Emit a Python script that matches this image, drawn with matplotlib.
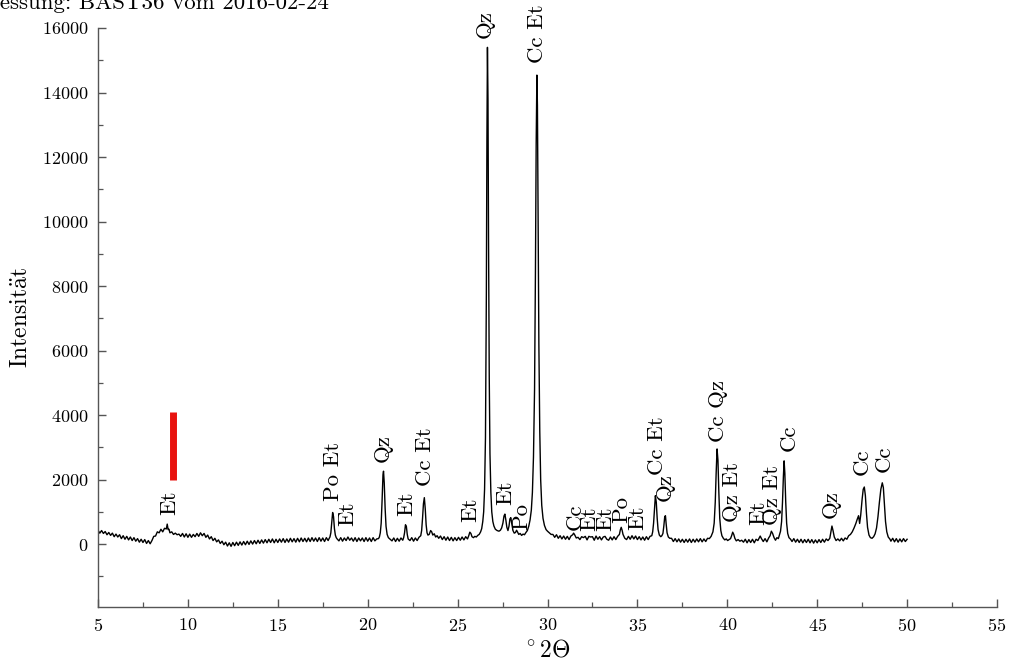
import matplotlib
matplotlib.use("Agg")
import matplotlib.pyplot as plt
from matplotlib.ticker import MultipleLocator

plt.rcParams.update({
    "font.family": "cmr10",
    "mathtext.fontset": "cm",
    "axes.formatter.use_mathtext": True,
    "axes.unicode_minus": False,
})

# Diffractogram: 2-theta (degrees) and measured counts
two_theta = [
    5.0, 5.1, 5.2, 5.3, 5.4, 5.5, 5.6, 5.7, 5.8, 5.9, 6.0, 6.1, 6.2, 6.3, 6.4, 6.5, 6.6, 6.7, 6.8, 6.9,
    7.0, 7.1, 7.2, 7.3, 7.4, 7.5, 7.6, 7.7, 7.8, 7.9,
    8.0, 8.1, 8.2, 8.3, 8.4, 8.5, 8.6, 8.7, 8.8, 8.85, 8.9, 8.95, 9.0, 9.1, 9.2, 9.3, 9.4, 9.5,
    9.6, 9.7, 9.8, 9.9, 10.0, 10.1, 10.2, 10.3, 10.4, 10.5, 10.6, 10.7, 10.8, 10.9, 11.0, 11.1, 11.2, 11.3,
    11.4, 11.5, 11.6, 11.7, 11.8, 11.9,
    12.0, 12.1, 12.2, 12.3, 12.4, 12.5, 12.6, 12.7, 12.8, 12.9, 13.0, 13.1, 13.2, 13.3, 13.4, 13.5, 13.6,
    13.7, 13.8, 13.9, 14.0, 14.1, 14.2, 14.3, 14.4, 14.5, 14.6, 14.7, 14.8, 14.9, 15.0, 15.1, 15.2, 15.3,
    15.4, 15.5, 15.6, 15.7, 15.8, 15.9,
    16.0, 16.1, 16.2, 16.3, 16.4, 16.5, 16.6, 16.7, 16.8, 16.9, 17.0, 17.1, 17.2, 17.3, 17.4, 17.5, 17.6,
    17.7, 17.8,
    17.85, 17.9, 17.95, 18.0, 18.05, 18.1, 18.15, 18.2, 18.25, 18.3,
    18.4, 18.5, 18.6, 18.7, 18.8, 18.9, 19.0, 19.1, 19.2, 19.3, 19.4, 19.5, 19.6, 19.7, 19.8, 19.9, 20.0,
    20.1, 20.2, 20.3, 20.4, 20.5,
    20.6, 20.65, 20.7, 20.75, 20.8, 20.85, 20.88, 20.92, 20.97, 21.02, 21.08, 21.15, 21.25,
    21.35, 21.45, 21.55, 21.65, 21.75, 21.85, 21.95, 22.0, 22.05, 22.1, 22.15, 22.2, 22.25, 22.35, 22.45,
    22.55, 22.65, 22.75, 22.85,
    22.95, 23.0, 23.05, 23.1, 23.15, 23.2, 23.25, 23.3, 23.35, 23.42, 23.5, 23.56, 23.62, 23.7, 23.78,
    23.86, 23.95,
    24.05, 24.15, 24.25, 24.35, 24.45, 24.55, 24.65, 24.75, 24.85, 24.95, 25.05, 25.15, 25.25, 25.35,
    25.45, 25.55,
    25.62, 25.68, 25.74, 25.8, 25.88, 25.96, 26.04, 26.12, 26.2, 26.28,
    26.34, 26.4, 26.45, 26.5, 26.55, 26.6, 26.63, 26.66, 26.69, 26.72, 26.76, 26.8, 26.85, 26.9, 26.96,
    27.02, 27.1, 27.2, 27.3, 27.38,
    27.45, 27.52, 27.58, 27.63, 27.68, 27.74, 27.8, 27.86, 27.91, 27.96, 28.01, 28.08, 28.15,
    28.22, 28.28, 28.33, 28.4, 28.48, 28.56, 28.64, 28.72, 28.8, 28.88, 28.96,
    29.03, 29.1, 29.16, 29.22, 29.28, 29.33, 29.37, 29.41, 29.44, 29.48, 29.52, 29.57, 29.62, 29.68,
    29.75, 29.83, 29.92, 30.0, 30.1, 30.2,
    30.3, 30.4, 30.5, 30.6, 30.7, 30.8, 30.9, 31.0, 31.1, 31.2, 31.3, 31.4, 31.45, 31.5, 31.6, 31.7,
    31.8, 31.9, 32.0, 32.1, 32.2, 32.3, 32.4, 32.5, 32.6, 32.7, 32.8, 32.9, 33.0, 33.1, 33.2, 33.3,
    33.4, 33.5, 33.6, 33.7, 33.8, 33.9,
    34.0, 34.05, 34.1, 34.15, 34.2, 34.3, 34.4, 34.5, 34.6, 34.7, 34.8, 34.9, 35.0, 35.1, 35.2, 35.3,
    35.4, 35.5, 35.6, 35.7, 35.8,
    35.85, 35.9, 35.95, 36.0, 36.05, 36.1, 36.15, 36.22, 36.3, 36.36, 36.42, 36.47, 36.52, 36.56, 36.6,
    36.65, 36.72, 36.8,
    36.9, 37.0, 37.1, 37.2, 37.3, 37.4, 37.5, 37.6, 37.7, 37.8, 37.9, 38.0, 38.1, 38.2, 38.3, 38.4,
    38.5, 38.6, 38.7, 38.8, 38.9, 39.0, 39.1,
    39.2, 39.27, 39.33, 39.38, 39.43, 39.48, 39.53, 39.58, 39.64, 39.7, 39.78, 39.86, 39.94, 40.02,
    40.1, 40.18,
    40.24, 40.3, 40.36, 40.42, 40.5, 40.6, 40.7, 40.8, 40.9, 41.0, 41.1, 41.2, 41.3, 41.4, 41.5, 41.6,
    41.7,
    41.78, 41.83, 41.9, 42.0, 42.1, 42.2, 42.3, 42.38, 42.45, 42.52, 42.6, 42.68, 42.76, 42.84, 42.9,
    42.96, 43.02, 43.07, 43.12, 43.16, 43.2, 43.25, 43.3, 43.36, 43.43, 43.52,
    43.6, 43.7, 43.8, 43.9, 44.0, 44.1, 44.2, 44.3, 44.4, 44.5, 44.6, 44.7, 44.8, 44.9, 45.0, 45.1,
    45.2, 45.3, 45.4, 45.5, 45.6, 45.7,
    45.76, 45.82, 45.88, 45.95, 46.05, 46.15, 46.25, 46.35, 46.45, 46.55, 46.65, 46.75, 46.85,
    46.95, 47.05, 47.15, 47.22, 47.3, 47.36, 47.42, 47.5, 47.56, 47.62, 47.68, 47.74, 47.8, 47.88,
    47.96, 48.05,
    48.14, 48.22, 48.3, 48.38, 48.46, 48.54, 48.62, 48.68, 48.74, 48.8, 48.87, 48.95, 49.05,
    49.1, 49.2, 49.3, 49.4, 49.5, 49.6, 49.7, 49.8, 49.9, 50.0,
]

intensity = [
    430, 340, 420, 330, 390, 290, 360, 270, 340, 230, 310, 220, 290, 170, 260, 150, 240, 130, 220, 110,
    200, 90, 170, 60, 150, 50, 140, 20, 110, 10,
    110, 240, 250, 380, 350, 460, 380, 490, 470, 620, 450, 460, 350, 380, 300, 340, 290, 310,
    240, 330, 220, 320, 210, 310, 210, 300, 230, 330, 240, 350, 260, 330, 210, 280, 160, 230,
    110, 180, 70, 130, 20, 90,
    -20, 60, -60, 40, -70, 50, -50, 60, -40, 70, -30, 80, -20, 90, -10, 100, 0,
    110, 10, 120, 20, 130, 30, 140, 40, 150, 50, 160, 40, 150, 50, 160, 60, 170,
    50, 160, 60, 180, 70, 170,
    60, 180, 70, 190, 80, 180, 70, 190, 80, 200, 90, 190, 80, 200, 90, 190, 80,
    200, 110,
    170, 220, 350, 650, 980, 850, 480, 280, 200, 160,
    100, 200, 90, 190, 110, 220, 120, 190, 90, 200, 80, 190, 100, 190, 80, 200, 90,
    190, 80, 200, 100, 160,
    170, 220, 350, 650, 1350, 2150, 2260, 1900, 1100, 550, 300, 200, 150,
    100, 190, 80, 180, 90, 190, 120, 200, 350, 600, 550, 300, 160, 110, 200,
    90, 190, 110, 210,
    260, 420, 800, 1250, 1440, 1100, 600, 350, 280, 300, 420, 380, 280, 320, 220,
    260, 180,
    250, 140, 230, 120, 220, 110, 210, 100, 200, 110, 210, 120, 220, 130,
    230, 160,
    260, 370, 330, 230, 200, 240, 220, 270, 300, 380,
    480, 700, 1000, 1700, 3300, 7800, 12500, 15400, 13800, 9500, 5200, 2800, 1600, 1000, 700,
    560, 460, 420, 400, 430,
    500, 650, 870, 930, 760, 520, 420, 560, 780, 820, 640, 420, 340,
    360, 430, 380, 300, 330, 270, 310, 290, 360, 420, 560,
    750, 1050, 1600, 2700, 4800, 8500, 12400, 14540, 13600, 10000, 6200, 3500, 2000, 1200,
    800, 580, 450, 400, 350, 300,
    300, 210, 290, 180, 260, 160, 250, 150, 240, 140, 250, 290, 340, 300, 190, 210,
    140, 230, 200, 240, 130, 240, 220, 230, 120, 250, 150, 230, 130, 220, 240, 150,
    120, 220, 130, 230, 140, 240,
    300, 440, 520, 430, 300, 180, 140, 240, 150, 260, 160, 250, 140, 230, 130, 220,
    120, 230, 140, 240, 260,
    380, 650, 1100, 1500, 1300, 800, 450, 280, 230, 260, 330, 560, 850, 880, 620,
    350, 220, 180,
    180, 80, 170, 70, 160, 60, 150, 50, 150, 60, 160, 50, 150, 60, 160, 70,
    170, 70, 160, 80, 180, 170, 240,
    380, 650, 1300, 2200, 2950, 2600, 1600, 800, 420, 260, 180, 130, 160, 110,
    140, 170,
    260, 370, 300, 180, 100, 140, 90, 120, 60, 150, 40, 140, 50, 150, 40, 150,
    110,
    200, 250, 170, 80, 170, 70, 190, 260, 400, 330, 200, 120, 200, 170, 280,
    400, 700, 1300, 2100, 2580, 2200, 1300, 650, 330, 200, 150,
    80, 170, 60, 150, 50, 150, 40, 140, 50, 150, 40, 140, 30, 130, 40, 140,
    50, 150, 60, 160, 110, 180,
    380, 560, 420, 220, 110, 160, 100, 180, 100, 190, 150, 260, 300,
    380, 500, 640, 760, 880, 640, 900, 1400, 1700, 1770, 1500, 950, 520, 280,
    200, 180,
    230, 320, 500, 850, 1300, 1700, 1900, 1750, 1200, 700, 380, 220, 150,
    90, 180, 70, 170, 60, 160, 70, 170, 80, 150,
]

# Phase assignments: label position (2-theta), lower end of label (counts), text
label_x = [9.0, 18.07, 18.9, 20.85, 22.13, 23.19, 25.7, 26.5, 27.64, 28.53, 29.45,
           31.53, 32.36, 33.2, 34.09, 35.03, 36.09, 36.53, 39.48, 40.26, 41.76, 42.49,
           43.43, 45.77, 47.49, 48.71]
label_y = [900, 1330, 560, 2560, 860, 1800, 680, 15700, 1200, 430, 14900,
           450, 400, 400, 650, 430, 2150, 1350, 3180, 700, 600, 600,
           2900, 800, 2150, 2250]
label_text = ["Et", "Po Et", "Et", "Qz", "Et", "Cc Et", "Et", "Qz", "Et", "Po", "Cc Et",
              "Cc", "Et", "Et", "Po", "Et", "Cc Et", "Qz", "Cc Qz", "Qz Et", "Et", "Qz Et",
              "Cc", "Qz", "Cc", "Cc"]

# Highlighted reflection marker
marker_x = 9.15
marker_low = 2000
marker_high = 4100

fig = plt.figure(figsize=(10.11, 6.64), dpi=100)
ax = fig.add_axes([98 / 1011, 57 / 664, (997 - 98) / 1011, (607 - 28) / 664])

ax.plot(two_theta, intensity, color="black", lw=1.0)
ax.vlines(marker_x, marker_low, marker_high, color="#e8130f", lw=5)

for x, y, s in zip(label_x, label_y, label_text):
    ax.text(x, y, s, rotation=90, ha="center", va="bottom", fontsize=16.5)

ax.set_xlim(5, 55)
ax.set_ylim(-1950, 16000)
ax.xaxis.set_major_locator(MultipleLocator(5))
ax.xaxis.set_minor_locator(MultipleLocator(2.5))
ax.set_yticks(range(0, 16001, 2000))
ax.yaxis.set_minor_locator(MultipleLocator(1000))

for side in ("top", "right"):
    ax.spines[side].set_visible(False)
for side in ("left", "bottom"):
    ax.spines[side].set_color("#555555")
    ax.spines[side].set_linewidth(1.0)

ax.tick_params(which="both", direction="in", color="#555555", labelsize=13)
ax.tick_params(which="major", length=6, width=1.0, pad=7)
ax.tick_params(which="minor", length=3.5, width=0.9)

ax.set_xlabel(r"$^{\circ}\,2\Theta$", fontsize=17, labelpad=4)
ax.set_ylabel(r"Intensit$\ddot{\mathrm{a}}$t", fontsize=17, labelpad=7)

fig.text(-0.021, 0.987, "Messung: BAST36 vom 2016-02-24", fontsize=16.5,
         ha="left", va="baseline")

fig.savefig("out.png", dpi=100)
